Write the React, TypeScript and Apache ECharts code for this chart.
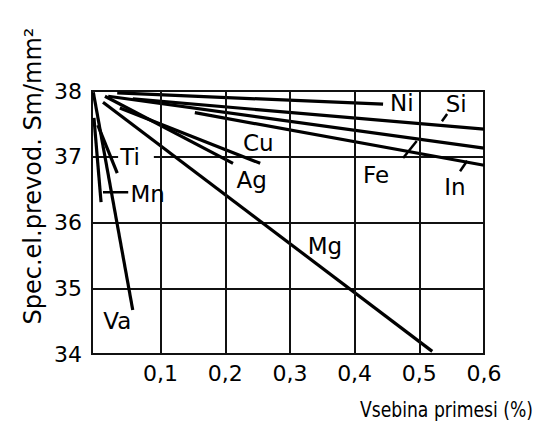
import React, { useEffect, useRef } from "react";
import * as echarts from "echarts";

// axis ticks
const xTicks = [0.1, 0.2, 0.3, 0.4, 0.5, 0.6];
const yTicks = [34, 35, 36, 37, 38];

// lines: [start, end] in (content %, conductivity)
const ni = [[0.033, 37.97], [0.444, 37.8]];
const si = [[0.057, 37.88], [0.6, 37.42]];
const fe = [[0.019, 37.92], [0.6, 37.13]];
const inn = [[0.153, 37.67], [0.6, 36.87]];
const cu = [[0.037, 37.74], [0.254, 36.9]];
const ag = [[0.014, 37.92], [0.212, 36.9]];
const mg = [[0.011, 37.83], [0.52, 34.04]];
const va = [[-0.004, 37.98], [0.057, 34.67]];
const ti = [[0.003, 37.48], [0.033, 36.75]];
const mn = [[-0.003, 37.59], [0.008, 36.31]];

const lineNames = ["Ni", "Si", "Fe", "In", "Cu", "Ag", "Mg", "Va", "Ti", "Mn"];
const lineData = [ni, si, fe, inn, cu, ag, mg, va, ti, mn];

// label positions
const labelNames = ["Ni", "Si", "Fe", "In", "Cu", "Ag", "Mg", "Va", "Ti", "Mn"];
const labelX = [0.473, 0.557, 0.433, 0.555, 0.251, 0.241, 0.354, 0.033, 0.062, 0.08];
const labelY = [37.82, 37.8, 36.72, 36.54, 37.21, 36.65, 35.64, 34.5, 37.0, 36.43];

// leader strokes
const leaders = [
  [[0.535, 37.54], [0.543, 37.65]],
  [[0.475, 36.98], [0.496, 37.24]],
  [[0.563, 36.78], [0.574, 36.94]],
  [[0.011, 36.46], [0.05, 36.46]],
];

const FONT = "DejaVu Sans";

export default function App() {
  const ref = useRef<HTMLDivElement>(null);
  useEffect(() => {
    const chart = echarts.init(ref.current!, undefined, { renderer: "svg" });
    const series: any[] = [];
    series.push({
      type: "line",
      data: [],
      silent: true,
      z: 1,
      markLine: {
        silent: true,
        symbol: "none",
        label: { show: false },
        animation: false,
        lineStyle: { color: "#111", width: 2, type: "solid" },
        data: xTicks.slice(0, -1).map((v) => ({ xAxis: v })),
      },
    });
    lineData.forEach((d, i) => {
      series.push({
        type: "line",
        name: lineNames[i],
        data: d,
        symbol: "none",
        z: 3,
        lineStyle: { color: "#000", width: 3.2, cap: "butt" },
      });
    });
    leaders.forEach((d) => {
      series.push({
        type: "line",
        data: d,
        symbol: "none",
        z: 3,
        lineStyle: { color: "#000", width: 2.5 },
      });
    });
    series.push({
      type: "scatter",
      symbolSize: 1,
      itemStyle: { color: "rgba(0,0,0,0)", opacity: 1 },
      z: 5,
      data: labelNames.map((n, i) => {
        const item: any = { value: [labelX[i], labelY[i], n] };
        if (n === "Ti") {
          item.label = { backgroundColor: "#fff", padding: [0, 14, 0, 2] };
        }
        return item;
      }),
      label: {
        show: true,
        position: "inside",
        formatter: (p: any) => p.data.value[2],
        color: "#000",
        opacity: 1,
        fontFamily: FONT,
        fontSize: 23,
      },
    });

    chart.setOption({
      animation: false,
      backgroundColor: "#fff",
      grid: {
        left: 92,
        right: 51,
        top: 91,
        bottom: 70,
        show: true,
        borderColor: "#111",
        borderWidth: 2,
        backgroundColor: "transparent",
      },
      xAxis: {
        type: "value",
        min: -0.006,
        max: 0.6,
        axisLine: { show: false },
        axisTick: { show: false },
        splitLine: { show: false },
        axisLabel: {
          customValues: xTicks,
          formatter: (v: number) => v.toFixed(1).replace(".", ","),
          color: "#000",
          fontFamily: FONT,
          fontSize: 22,
          margin: 8,
        },
      },
      yAxis: {
        type: "value",
        min: 34,
        max: 38,
        interval: 1,
        axisLine: { show: false },
        axisTick: { show: false },
        splitLine: { show: true, lineStyle: { color: "#111", width: 2 } },
        axisLabel: {
          color: "#000",
          fontFamily: FONT,
          fontSize: 22,
          margin: 10,
          formatter: (v: number) => (yTicks.includes(v) ? String(v) : ""),
        },
      },
      graphic: [
        {
          type: "text",
          x: 533,
          y: 410,
          scaleX: 0.82,
          style: {
            text: "Vsebina primesi (%)",
            align: "right",
            verticalAlign: "middle",
            fontFamily: FONT,
            fontSize: 21,
            fill: "#000",
          },
        },
        {
          type: "text",
          x: 33,
          y: 176,
          rotation: Math.PI / 2,
          style: {
            text: "Spec.el.prevod. Sm/mm²",
            align: "center",
            verticalAlign: "middle",
            fontFamily: FONT,
            fontSize: 24,
            fill: "#000",
          },
        },
      ],
      series,
    });
    return () => chart.dispose();
  }, []);
  return (
    <div
      ref={ref}
      style={{ position: "fixed", left: 0, top: 0, width: 535, height: 424, background: "#fff" }}
    />
  );
}
